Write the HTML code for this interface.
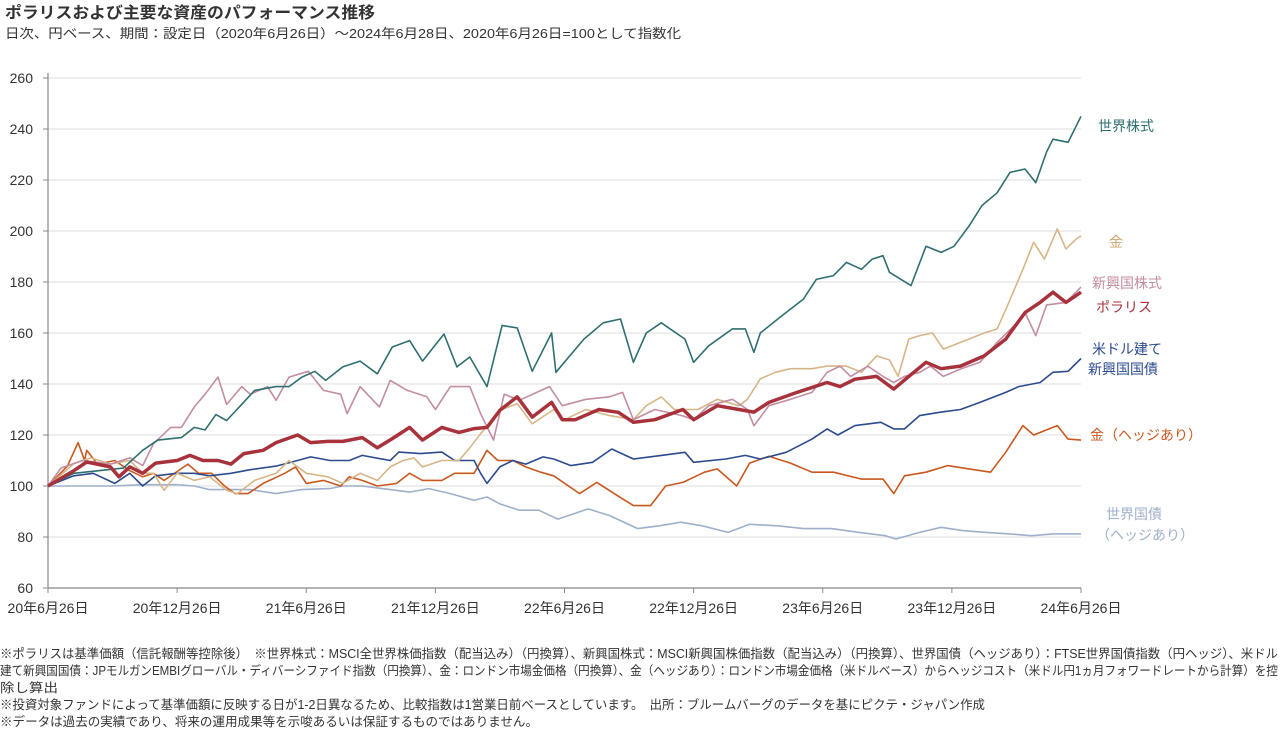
<!DOCTYPE html>
<html><head><meta charset="utf-8"><style>
html,body{margin:0;padding:0;background:#fff;}
svg{display:block;font-family:"Liberation Sans","Noto Sans CJK JP",sans-serif;}
</style></head><body>
<svg id="chart" width="1280" height="730" viewBox="0 0 1280 730" xmlns="http://www.w3.org/2000/svg">
<text x="5" y="18" font-size="16" font-weight="bold" fill="#333" textLength="370" lengthAdjust="spacingAndGlyphs">ポラリスおよび主要な資産のパフォーマンス推移</text>
<text x="5" y="38" font-size="13" fill="#333" textLength="676" lengthAdjust="spacingAndGlyphs">日次、円ベース、期間：設定日（2020年6月26日）～2024年6月28日、2020年6月26日=100として指数化</text>
<g id="grid"></g>
<g id="axes"></g>
<g id="series"></g>
<g id="labels"></g>
<g font-size="12.5" fill="#333">
<text x="0" y="658" textLength="1278" lengthAdjust="spacingAndGlyphs">※ポラリスは基準価額（信託報酬等控除後）　※世界株式：MSCI全世界株価指数（配当込み）（円換算）、新興国株式：MSCI新興国株価指数（配当込み）（円換算）、世界国債（ヘッジあり）：FTSE世界国債指数（円ヘッジ）、米ドル</text>
<text x="0" y="675" textLength="1278" lengthAdjust="spacingAndGlyphs">建て新興国国債：JPモルガンEMBIグローバル・ディバーシファイド指数（円換算）、金：ロンドン市場金価格（円換算）、金（ヘッジあり）：ロンドン市場金価格（米ドルベース）からヘッジコスト（米ドル円1ヵ月フォワードレートから計算）を控</text>
<text x="0" y="692" textLength="58" lengthAdjust="spacingAndGlyphs">除し算出</text>
<text x="0" y="709" textLength="985" lengthAdjust="spacingAndGlyphs">※投資対象ファンドによって基準価額に反映する日が1-2日異なるため、比較指数は1営業日前ベースとしています。　出所：ブルームバーグのデータを基にピクテ・ジャパン作成</text>
<text x="0" y="726" textLength="538" lengthAdjust="spacingAndGlyphs">※データは過去の実績であり、将来の運用成果等を示唆あるいは保証するものではありません。</text>
</g>
</svg>
<script>
const yTicks=[60,80,100,120,140,160,180,200,220,240,260];
const xTickLabels=["20年6月26日","20年12月26日","21年6月26日","21年12月26日","22年6月26日","22年12月26日","23年6月26日","23年12月26日","24年6月26日"];
const xTickMonths=[0,6,12,18,24,30,36,42,48];
// months since 2020-06-26 / index values
const worldEqT=[0,1.2,3.5,4.4,5.1,6.2,6.8,7.3,7.8,8.3,9,9.6,10.6,11.2,11.8,12.4,12.9,13.7,14.5,15.3,16,16.8,17.4,18.4,19,19.6,20.4,21.1,21.8,22.5,23.4,23.6,24.9,25.8,26.6,27.2,27.8,28.5,29.6,30,30.7,31.8,32.4,32.8,33.1,34.1,35.1,35.7,36.5,37.1,37.8,38.3,38.8,39.1,40.1,40.8,41.5,42.1,42.8,43.4,44.1,44.7,45.4,45.9,46.4,46.7,47.4,48];
const worldEqV=[100,105,107,114,118,119,123,122,128,125.7,132,137.5,139,139,142.7,145,141.4,146.7,149,144,154.5,157,149,159.6,146.7,150.6,139,163,162,145,160,144.6,157.6,164,165.5,148.5,160,164,157.6,148.5,155,161.6,161.6,152.4,160,166.8,173.3,181,182.5,187.7,185,189,190.3,183.8,178.6,194,191.6,194,202,210,215,223,224.3,219,231,236,234.8,245];
const emEqT=[0,0.6,1.6,2.9,3.8,4.4,4.9,5.7,6.2,6.8,7.3,7.9,8.3,9,9.4,10.2,10.6,11.2,12.1,12.8,13.6,13.9,14.5,15.4,15.9,16.7,17.6,18,18.7,19.6,20.1,20.7,21.2,21.9,23.3,23.9,25,26.1,26.7,27.2,28.2,29.5,30,30.7,31.8,32.5,32.8,33.5,34.5,35.5,36.2,36.8,37.3,38.1,38.8,39.3,39.8,40.5,41,41.6,42.4,43.3,44.1,44.9,45.4,45.9,46.4,47.3,48];
const emEqV=[100,107,110,108.6,111,108,116.6,123,123,131,136,142.7,132,139,136,139,133.6,142.7,145,137.5,136,128.4,139,131,141.4,137.5,135,130,139,139,128.4,118,136,133.6,139,131.5,134,135,136.7,126,130,127.5,126,131.5,134,130,123.6,131.5,134,136.7,144.6,147,143,147,143,140.6,143,144.6,147,143,145.9,148.5,156.3,163,168,159,171,172,178];
const polarisT=[0,1.2,1.8,2.9,3.3,3.8,4.4,5,6,6.6,7.2,7.9,8.5,9.1,10,10.6,11.6,12.2,13,13.7,14.6,15.3,16,16.8,17.4,18.3,19.1,19.8,20.4,21,21.8,22.5,23.4,23.9,24.5,25.6,26.5,27.2,28.2,29.5,30,31.1,32.1,32.8,33.5,34.8,36.2,36.8,37.5,38.5,39.3,40,40.8,41.5,42.4,43.5,44.5,45.4,46.1,46.7,47.3,48];
const polarisV=[100,106,109.4,107.5,103.6,107.5,105,109,110,112,110,110,108.6,112.7,114,117,120,117,117.5,117.5,119,115,118.6,123,118,123,121,122.5,123,129.7,135,127,132.8,126,126,130,128.9,125,126,130,126,131.5,130,129,132.8,136.7,140.6,139,141.9,143,138,143,148.5,146,147,151,157.6,168,172,176,172,176];
const goldT=[0,1.2,2,2.9,3.8,4.4,4.9,5.4,6,6.8,7.5,8.3,8.8,9.6,10.6,11.2,12,13,13.7,14.5,15.3,15.9,16.5,17,17.4,18.3,19.1,19.6,20.1,20.5,21,21.8,22.5,23.5,24,25,26.1,27.2,27.8,28.5,29.1,30.2,31.1,32.1,32.5,33.1,33.8,34.5,35.5,36.2,37.1,37.8,38.5,39.1,39.5,40,40.5,41.1,41.6,42.4,43.5,44.1,44.6,45.3,45.8,46.3,46.9,47.3,47.8,48];
const goldV=[100,108.8,111,108.6,110,105,105,98.3,105,102.2,103.6,98.3,97,102.2,105,110,105,103.6,101,105,102.2,107.5,110,111,107.5,110,110,115,120.5,124.4,129.7,132.3,124.4,130,126,130,127.6,126,131.5,135,130,130,134,131.5,134,142,144.6,146,146,147,147,144.6,151,149.4,143,157.6,159,160,153.7,156.3,160,161.6,171,185,195.6,189,200.8,193,197,198];
const goldHT=[0,0.9,1.4,1.7,1.8,2.3,3.1,3.8,4.4,4.9,5.4,6.5,7,7.6,8.2,8.7,9.3,10,11,11.5,12,12.8,13.6,14,14.6,15.3,16.2,16.8,17.4,18.3,18.9,19.8,20.4,20.9,21.6,22.2,22.9,23.5,24.7,25.5,26.5,27.2,28,28.7,29.5,30.5,31.1,32,32.6,33.5,34.5,35.5,36.5,37.8,38.8,39.3,39.8,40.8,41.8,42.8,43.8,44.5,45.3,45.8,46.9,47.4,48];
const goldHV=[100,107.8,117,110,114,108.6,110,106,103.6,105,102.2,108.6,105,105,100,97,97,101,105,107.5,101,102.2,100,103.6,102.2,100,101,105,102.2,102.2,105,105,114,110,110,107.5,105.4,104,97,101.4,96,92.3,92.3,100,101.4,105.4,106.7,100,109,111.7,109,105.4,105.4,102.7,102.7,97,104,105.4,108,106.7,105.4,113.2,123.7,120,123.7,118.4,118];
const emBondT=[0,1.2,2.1,3.1,3.8,4.4,5,6,6.8,7.5,8.5,9.4,10.6,11.6,12.2,13.1,14,14.6,15.9,16.3,17.3,18.3,18.9,19.8,20.1,20.4,21,21.6,22.2,23,23.5,24.3,25.3,26.2,27.2,28.5,29.6,30,31.5,32.4,33.1,34.3,35.5,36.2,36.7,37.5,38.7,39.3,39.8,40.5,41.5,42.4,43.3,44.5,45.1,46.1,46.7,47.4,48];
const emBondV=[100,104,105,101,105,100,104,105,105,104,105,106.4,107.8,110,111.4,110,110,112,110,113.3,112.7,113.3,110,110,105,101,107.5,110,108.6,111.4,110.6,108,109.3,114.5,110.6,112,113.2,109.3,110.6,112,110.6,113.2,118.4,122.4,120,123.7,125,122.4,122.4,127.6,129,130,132.8,136.7,139,140.6,144.6,145,150];
const worldBondT=[0,1.2,2.9,4.4,6,6.8,7.5,8.5,9.4,10.6,11.8,13.1,13.7,14.6,15.9,16.8,17.7,18.7,19.8,20.4,21,21.9,22.8,23.7,25.1,26.1,27.4,28.4,29.4,30.4,31.6,32.6,33.9,35.1,36.4,37.7,38.9,39.4,40.5,41.5,42.5,43.6,44.7,45.7,46.7,48];
const worldBondV=[100,100,100,100.5,100.5,100,98.6,98.6,98.6,97,98.6,99,100,100,98.6,97.6,99,97,94.4,95.7,93,90.5,90.5,87,91,88.4,83.3,84.4,85.8,84.4,81.8,85,84.4,83.3,83.3,81.8,80.5,79.2,81.8,83.8,82.5,81.8,81.2,80.5,81.2,81.2];

const X0=48,X1=1081,Y0=588,Y1=78;
const xs=m=>X0+(X1-X0)*m/48;
const ys=v=>Y0-(Y0-Y1)*(v-60)/200;
const NS="http://www.w3.org/2000/svg";
function mk(tag,attrs,parent){const e=document.createElementNS(NS,tag);for(const k in attrs)e.setAttribute(k,attrs[k]);parent.appendChild(e);return e;}
const grid=document.getElementById('grid'),axes=document.getElementById('axes'),ser=document.getElementById('series'),lab=document.getElementById('labels');
yTicks.forEach(t=>{
  if(t>60){const g=mk('line',{x1:X0,x2:X1,y1:ys(t),y2:ys(t),stroke:'#e3e3e3','stroke-width':1.2},grid);
  
  }
  const tk=mk('line',{x1:X0-5,x2:X0,y1:ys(t),y2:ys(t),stroke:'#888'},axes);
  
  
  const tx=mk('text',{x:33,y:ys(t)+5,'font-size':14,fill:'#333','text-anchor':'end'},axes);
  tx.textContent=t;
  
  
});
const ya=mk('line',{x1:X0,x2:X0,y1:Y1-5,y2:Y0,stroke:'#888','stroke-width':1.2},axes);


const xa=mk('line',{x1:X0,x2:X1,y1:Y0,y2:Y0,stroke:'#888','stroke-width':1.2},axes);


xTickMonths.forEach((m,i)=>{
  const tk=mk('line',{x1:xs(m),x2:xs(m),y1:Y0,y2:Y0+5,stroke:'#888'},axes);
  
  
  const tx=mk('text',{x:xs(m),y:613,'font-size':14,fill:'#333','text-anchor':'middle'},axes);
  tx.textContent=xTickLabels[i];
  
  
});
function line(T,V,color,w,name){
  const d=T.map((t,i)=>(i?'L':'M')+xs(t).toFixed(1)+','+ys(V[i]).toFixed(1)).join('');
  const p=mk('path',{d:d,fill:'none',stroke:color,'stroke-width':w,'stroke-linejoin':'round'},ser);
  
  
}
line(worldBondT,worldBondV,'#9fb0cb',1.6,'line-world-bond-hedged');
line(goldHT,goldHV,'#c9581f',1.6,'line-gold-hedged');
line(emBondT,emBondV,'#2c4b8e',1.6,'line-em-bond-usd');
line(goldT,goldV,'#d6b687',1.6,'line-gold');
line(emEqT,emEqV,'#c38da2',1.6,'line-em-equity');
line(worldEqT,worldEqV,'#2f6f70',1.6,'line-world-equity');
line(polarisT,polarisV,'#a8323b',3.5,'line-polaris');
const labels=[["世界株式",1098,131,'#2f6f70','label-world-equity'],["金",1109,247,'#c9a36a','label-gold'],["新興国株式",1092,288,'#c38da2','label-em-equity'],["ポラリス",1096,312,'#a8323b','label-polaris'],["米ドル建て",1092,354,'#2c4b8e','label-em-bond-1'],["新興国国債",1088,374,'#2c4b8e','label-em-bond-2'],["金（ヘッジあり）",1090,440,'#c9581f','label-gold-hedged'],["世界国債",1106,519,'#9fb0cb','label-world-bond-1'],["（ヘッジあり）",1096,540,'#9fb0cb','label-world-bond-2']];
labels.forEach(l=>{
  const t=mk('text',{x:l[1],y:l[2],'font-size':14,fill:l[3]},lab);
  t.textContent=l[0];
  
  
});
</script>
</body></html>
